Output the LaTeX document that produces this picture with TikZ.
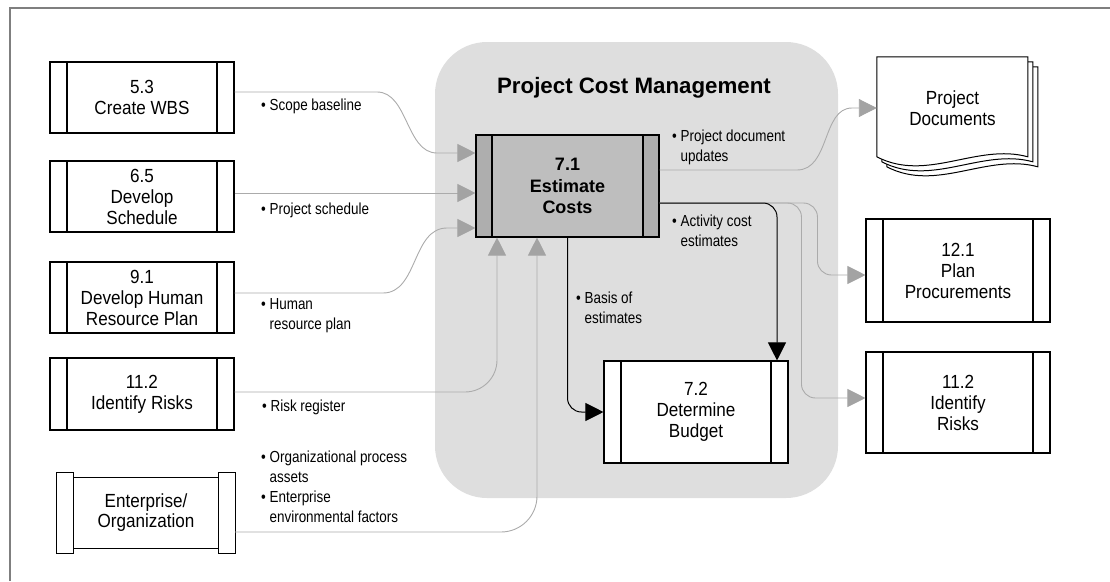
\documentclass[tikz,border=0pt]{standalone}
\usepackage{fontspec}
\setmainfont{Liberation Sans}
\newfontfamily\boxfont[FakeStretch=0.9]{Liberation Sans}
\newfontfamily\lblfont[FakeStretch=0.84]{Liberation Sans}
\usetikzlibrary{arrows.meta,positioning,calc,backgrounds}
\definecolor{areagray}{HTML}{DEDEDE}
\definecolor{estgray}{HTML}{BEBEBE}
\definecolor{capgray}{HTML}{AEAEAE}
\definecolor{wiregray}{HTML}{ABABAB}
\definecolor{tipgray}{HTML}{A3A3A3}
\definecolor{framegray}{HTML}{7F7F7F}
\colorlet{fg}{black}
\newcommand{\bul}{\textbullet\ }
\newcommand{\bulpad}{\phantom{\textbullet\ }}
\tikzset{
  process/.style={draw=fg, line width=1.1pt, fill=white, minimum width=184pt, minimum height=71pt,
    inner sep=0pt, align=center, font=\boxfont\fontsize{19}{21}\selectfont,
    path picture={\draw[line width=1.1pt]
      ([xshift=17pt]path picture bounding box.north west) -- ([xshift=17pt]path picture bounding box.south west)
      ([xshift=-17pt]path picture bounding box.north east) -- ([xshift=-17pt]path picture bounding box.south east);}},
  estbox/.style={draw=fg, line width=1.1pt, fill=estgray, minimum width=183pt, minimum height=102pt,
    inner sep=0pt, align=center, font=\bfseries\fontsize{18}{21.5}\selectfont,
    path picture={
      \fill[capgray] (path picture bounding box.north west) rectangle ([xshift=16pt]path picture bounding box.south west);
      \fill[capgray] (path picture bounding box.north east) rectangle ([xshift=-16pt]path picture bounding box.south east);
      \draw[line width=1.1pt]
      ([xshift=16pt]path picture bounding box.north west) -- ([xshift=16pt]path picture bounding box.south west)
      ([xshift=-16pt]path picture bounding box.north east) -- ([xshift=-16pt]path picture bounding box.south east);}},
  entbox/.style={minimum width=178pt, minimum height=80pt, inner sep=0pt, align=center,
    font=\boxfont\fontsize{19}{20}\selectfont},
  boxline/.style={draw=fg, line width=1.1pt},
  docsbox/.style={minimum width=151pt, minimum height=102pt, inner sep=0pt, align=center,
    font=\boxfont\fontsize{19}{21.5}\selectfont},
  page/.style={draw=fg, line width=1pt, fill=white},
  cluster/.style={fill=areagray, rounded corners=52pt, minimum width=403pt, minimum height=456pt},
  lbl/.style={anchor=west, inner sep=0pt, align=left, font=\lblfont\fontsize{16}{20}\selectfont},
  feed/.style={draw=wiregray, line width=0.9pt, -{Triangle[length=18pt,width=18pt,color=tipgray]}},
  flow/.style={draw=fg, line width=1pt, -{Triangle[length=18pt,width=18pt,color=fg]}}
}

\begin{document}
\begin{tikzpicture}[x=1pt,y=-1pt]
  \useasboundingbox (0,0) rectangle (1110,581);
  \draw[framegray, line width=1.5pt] (10,581) -- (10,8) -- (1110,8);

  % knowledge area
  \node[cluster] (pcm) at (636.5,270) {};
  \node[anchor=base, font=\bfseries\fontsize{22.3}{26}\selectfont] (title) at (634,93) {Project Cost Management};

  % processes
  \node[process] (wbs) at (142,97.5) {5.3\\Create WBS};
  \node[process] (sched) at (142,196.5) {6.5\\Develop\\Schedule};
  \node[process] (hrp) at (142,297.5) {9.1\\Develop Human\\Resource Plan};
  \node[process, minimum height=72pt] (risksL) at (142,394) {11.2\\Identify Risks};
  \node[entbox] (ent) at (146,513) {Enterprise/\\Organization};
  \draw[boxline] (ent.north west) rectangle ([xshift=17pt]ent.south west);
  \draw[boxline] (ent.north east) rectangle ([xshift=-17pt]ent.south east);
  \draw[boxline] ([xshift=17pt,yshift=-4.5pt]ent.north west) rectangle ([xshift=-17pt,yshift=4.5pt]ent.south east);

  \node[estbox] (est) at (567.5,186) {7.1\\Estimate\\Costs};
  \node[process, minimum height=102pt] (budget) at (696,412) {7.2\\Determine\\Budget};
  \node[process, minimum height=103pt] (proc) at (958,270.5) {12.1\\Plan\\Procurements};
  \node[process, minimum height=101pt] (risksR) at (958,402.5) {11.2\\Identify\\Risks};

  % project documents
  \node[docsbox] (docs) at (952.5,108) {Project\\Documents};
  \begin{scope}[on background layer]
    \foreach \d in {10,5,0}
      \draw[page, shift={($(docs.north west)+(\d,\d)$)}]
        (0,0) -- (151,0) -- (151,100) .. controls (100,86) and (50,126) .. (0,100) -- cycle;
  \end{scope}

  % labels
  \node[lbl] (lscope) at (261,106) {\bul Scope baseline};
  \node[lbl] (lsched) at (261,210) {\bul Project schedule};
  \node[lbl] (lhrp) at (261,315.5) {\bul Human\\\bulpad resource plan};
  \node[lbl] (lrisk) at (262,407) {\bul Risk register};
  \node[lbl] (lorg) at (261,487) {\bul Organizational process\\\bulpad assets\\\bul Enterprise\\\bulpad environmental factors};
  \node[lbl] (lpdu) at (672,147) {\bul Project document\\\bulpad updates};
  \node[lbl] (lace) at (672,231) {\bul Activity cost\\\bulpad estimates};
  \node[lbl] (lboe) at (576,307.5) {\bul Basis of\\\bulpad estimates};

  % inputs
  \coordinate (in2) at ([yshift=-7pt]est.west);
  \draw[feed] ([yshift=5.5pt]wbs.east) -- (377,92) .. controls (408,92) and (406,153) .. (437,153) -- ([yshift=33pt]est.west);
  \draw[feed] (sched.east |- in2) -- (in2);
  \draw[feed] ([yshift=4.5pt]hrp.east) -- (383,293) .. controls (418,293) and (412,228) .. (447,228) -- ([yshift=-42pt]est.west);
  \draw[feed, rounded corners=32pt] ([yshift=2pt]risksL.east) -| ([xshift=-70.5pt]est.south);
  \draw[feed, rounded corners=36pt] ([yshift=-19pt]ent.east) -| ([xshift=-30.5pt]est.south);

  % outputs
  \draw[feed] ([yshift=16pt]est.east) -- (797,170) .. controls (830,170) and (822,108) .. (852,108) -- (docs.west);
  \draw[feed, rounded corners=14pt] ([yshift=-17pt]est.east) -| ([xshift=-48pt,yshift=-4.5pt]proc.west) -- ([yshift=-4.5pt]proc.west);
  \draw[feed, rounded corners=14pt] ([yshift=-17pt]est.east) -| ([xshift=-64pt,yshift=4.5pt]risksR.west) -- ([yshift=4.5pt]risksR.west);
  \draw[flow, rounded corners=14pt] ([yshift=-17pt]est.east) -| ([xshift=81pt]budget.north);
  \draw[flow, rounded corners=14pt] (est.south) |- (budget.west);
\end{tikzpicture}
\end{document}
